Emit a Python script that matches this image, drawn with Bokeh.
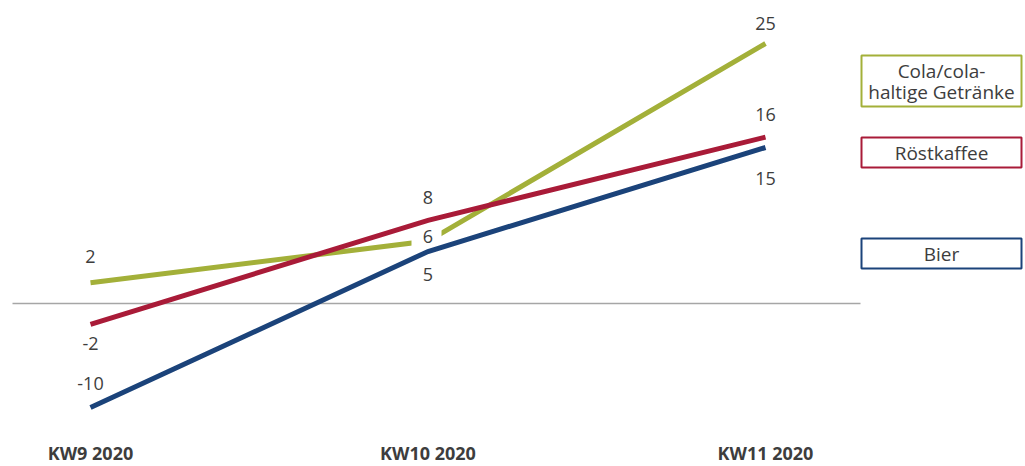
from bokeh.plotting import figure
from bokeh.models import Range1d, ColumnDataSource
from bokeh.core.properties import value
from bokeh.embed import file_html
from bokeh.resources import INLINE

categories = ["KW9 2020", "KW10 2020", "KW11 2020"]
series_names = ["Cola/cola-\nhaltige Getränke", "Röstkaffee", "Bier"]
cola = [2, 6, 25]
kaffee = [-2, 8, 16]
bier = [-10, 5, 15]

colors = ["#a3b039", "#a91b38", "#1b437a"]
text_color = "#3d3d3d"
FONT = "Open Sans"

W, H = 1025, 466
# pixel mapping
x0px, dxpx = 90, 337.5
y0px, dypx = 303, 10.4

xs = list(range(len(categories)))
p = figure(width=W, height=H, output_backend="svg", toolbar_location=None,
           min_border=0, outline_line_color=None,
           x_range=Range1d(-x0px / dxpx, (W - x0px) / dxpx),
           y_range=Range1d(-(H - y0px) / dypx, y0px / dypx))
p.axis.visible = False
p.grid.visible = False
p.background_fill_color = "white"
p.border_fill_color = "white"

def px2x(px):
    return (px - x0px) / dxpx

def px2y(py):
    return (y0px - py) / dypx

# zero line
p.line([px2x(12), px2x(860)], [0, 0], line_color="#a6a6a6", line_width=1.3)

series = [cola, kaffee, bier]
# value label offsets (screen px, positive = down)
offsets = [[-26, -5, -20], [19, -23, -23], [-24, 23, 31]]

# green line first, then white knock-out behind its middle label
p.line(xs, cola, line_color=colors[0], line_width=5, line_cap="butt", line_join="miter")
p.rect(x=[xs[1] - 1.5 / dxpx], y=[cola[1] - offsets[0][1] / dypx], width=30, height=20,
       width_units="screen", height_units="screen", fill_color="white", line_color=None)

for vals, c in zip(series[1:], colors[1:]):
    p.line(xs, vals, line_color=c, line_width=5, line_cap="butt", line_join="miter")

for vals, offs in zip(series, offsets):
    src = ColumnDataSource(dict(x=xs, y=vals, t=[str(v) for v in vals], o=offs))
    p.text(x="x", y="y", text="t", y_offset="o", source=src,
           text_font=value(FONT), text_font_size="18px", text_color=text_color,
           text_align="center", text_baseline="middle")

# category labels
p.text(x=xs, y=[px2y(452)] * len(xs), text=categories,
       text_font=value(FONT), text_font_size="18px", text_color=text_color,
       text_align="center", text_baseline="middle", text_font_style="bold")

# legend boxes
boxes = [(55, 106), (137, 167), (238, 268)]
bl, br = 861, 1021
for (top, bot), c, name in zip(boxes, colors, series_names):
    p.quad(left=px2x(bl), right=px2x(br), top=px2y(top), bottom=px2y(bot),
           fill_color="white", line_color=c, line_width=2)
    lines = name.split("\n")
    n = len(lines)
    cy = (top + bot) / 2
    lh = 21
    for i, ln in enumerate(lines):
        yy = cy + (i - (n - 1) / 2) * lh
        p.text(x=[px2x((bl + br) / 2)], y=[px2y(yy)], text=[ln],
               text_font=value(FONT), text_font_size="19px", text_color=text_color,
               text_align="center", text_baseline="middle")

open("out.html", "w").write(file_html(p, INLINE))
